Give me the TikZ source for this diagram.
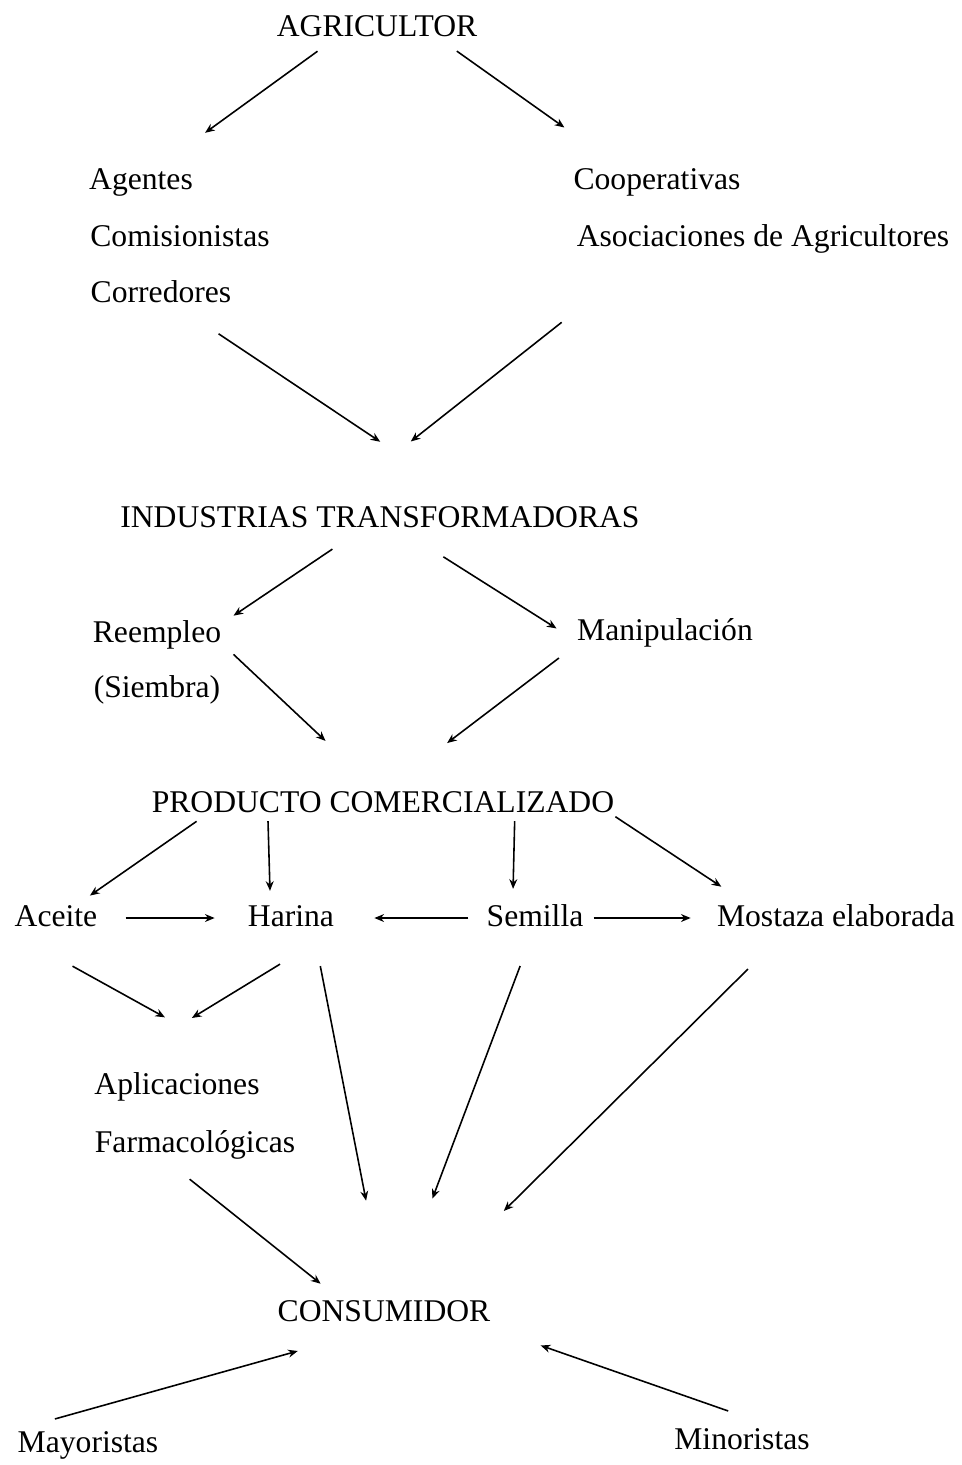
\documentclass[tikz,border=0pt]{standalone}
\usepackage{fontspec}
\setmainfont{Liberation Serif}
\usetikzlibrary{arrows.meta}

\tikzset{
	etiqueta/.style={inner sep=0pt, text height=14pt, text depth=4pt, font=\fontsize{18}{22}\selectfont},
	flecha/.style={->, >={Stealth[length=5.5pt,width=4.5pt]}, line width=0.9pt}
}

\begin{document}
\begin{tikzpicture}[x=0.02cm, y=-0.02cm]
		\useasboundingbox (0,0) rectangle (961,1465);
		% niveles de la cadena
		\node[etiqueta] (agricultor) at (377,28) {AGRICULTOR};
		\node[etiqueta] (agentes) at (141,181) {Agentes};
		\node[etiqueta] (comisionistas) at (180,238) {Comisionistas};
		\node[etiqueta] (corredores) at (161,294) {Corredores};
		\node[etiqueta] (cooperativas) at (657,181) {Cooperativas};
		\node[etiqueta] (asociaciones) at (763,238) {Asociaciones de Agricultores};
		\node[etiqueta] (industrias) at (380,519) {INDUSTRIAS TRANSFORMADORAS};
		\node[etiqueta] (reempleo) at (157,634) {Reempleo};
		\node[etiqueta] (siembra) at (157,689) {(Siembra)};
		\node[etiqueta] (manipulacion) at (665,632) {Manipulación};
		\node[etiqueta] (producto) at (383,804) {PRODUCTO COMERCIALIZADO};
		\node[etiqueta] (aceite) at (56,918) {Aceite};
		\node[etiqueta] (harina) at (291,918) {Harina};
		\node[etiqueta] (semilla) at (535,918) {Semilla};
		\node[etiqueta] (mostaza) at (836,918) {Mostaza elaborada};
		\node[etiqueta] (aplicaciones) at (177,1086) {Aplicaciones};
		\node[etiqueta] (farmaco) at (195,1144) {Farmacológicas};
		\node[etiqueta] (consumidor) at (384,1313) {CONSUMIDOR};
		\node[etiqueta] (mayoristas) at (88,1444) {Mayoristas};
		\node[etiqueta] (minoristas) at (742,1441) {Minoristas};

		% flechas
		\draw[flecha, shorten <=0.24cm, shorten >=1.09cm] (agricultor.198) -- (agentes.39);
		\draw[flecha, shorten <=0.24cm, shorten >=1.29cm] (agricultor.347) -- (cooperativas.158);
		\draw[flecha, shorten <=0.85cm, shorten >=2.2cm] (corredores.324) -- (industrias.10.5);
		\draw[flecha, shorten <=2.2cm, shorten >=1.98cm] (asociaciones.188) -- (industrias.161);
		\draw[flecha, shorten <=0.5cm, shorten >=0.29cm] (industrias.211) -- (reempleo.9);
		\draw[flecha, shorten <=0.81cm, shorten >=0.48cm] (industrias.331) -- (manipulacion.186);
		\draw[flecha, shorten <=0.33cm, shorten >=1.37cm] (reempleo.352) -- (producto.115);
		\draw[flecha, shorten <=0.45cm, shorten >=1.48cm] (manipulacion.188) -- (producto.72);
		\draw[flecha, shorten <=0.04cm, shorten >=0.22cm] (producto.185) -- (aceite.33);
		\draw[flecha, shorten <=0.02cm, shorten >=0.22cm] (producto.188.1) -- (harina.142.7);
		\draw[flecha, shorten <=0.02cm, shorten >=0.26cm] (producto.353) -- (semilla.144);
		\draw[flecha, shorten <=0.02cm, shorten >=0.55cm] (producto.357) -- (mostaza.170);
		\draw[flecha, shorten <=0.56cm, shorten >=0.66cm] (aceite.east) -- (harina.west);
		\draw[flecha, shorten <=0.36cm, shorten >=0.8cm] (semilla.west) -- (harina.east);
		\draw[flecha, shorten <=0.2cm, shorten >=0.52cm] (semilla.east) -- (mostaza.west);
		\draw[flecha, shorten <=1.33cm, shorten >=2.17cm] (aceite.201) -- (aplicaciones.11);
		\draw[flecha, shorten <=1.15cm, shorten >=1.99cm] (harina.337) -- (aplicaciones.167);
		\draw[flecha, shorten <=0.65cm, shorten >=1.96cm] (harina.325) -- (consumidor.87);
		\draw[flecha, shorten <=0.68cm, shorten >=2.1cm] (semilla.260) -- (consumidor.55);
		\draw[flecha, shorten <=0.99cm, shorten >=2.44cm] (mostaza.197) -- (consumidor.26);
		\draw[flecha, shorten <=0.61cm, shorten >=0.42cm] (farmaco.209) -- (consumidor.161);
		\draw[flecha, shorten <=0.66cm, shorten >=1.62cm] (mayoristas.166) -- (consumidor.243);
		\draw[flecha, shorten <=0.84cm, shorten >=1.06cm] (minoristas.32) -- (consumidor.352);
	\end{tikzpicture}
\end{document}
